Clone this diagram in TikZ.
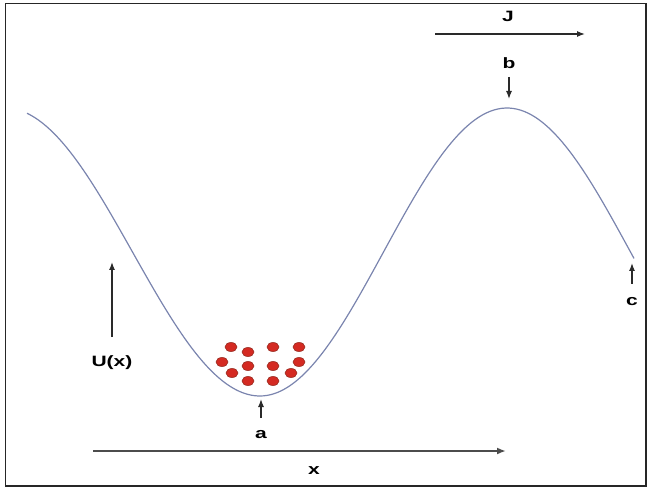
\documentclass[tikz,border=0pt]{standalone}
\usepackage{fontspec}
\setmainfont{Liberation Sans}
\usetikzlibrary{arrows.meta,shapes.geometric}
\definecolor{curvecol}{HTML}{7A84AE}
\definecolor{dotfill}{HTML}{D42A22}
\definecolor{dotedge}{HTML}{9A2A20}
\definecolor{arrcol}{HTML}{2A2A2A}
\tikzset{
  lbl/.style={font=\fontsize{15}{15}\selectfont\bfseries, inner sep=0pt},
  arr/.style={draw=arrcol, line width=1.3pt, -{Latex[length=8pt,width=6pt]}},
  dot/.style={ellipse, fill=dotfill, draw=dotedge, line width=0.6pt, minimum width=12pt, minimum height=9pt, inner sep=0pt},
}
\newcommand{\wide}[1]{\scalebox{1.4}[1]{#1}}
\begin{document}
\begin{tikzpicture}[x=1pt,y=-1pt]
\useasboundingbox (0,0) rectangle (651,489);
\draw[line width=1.6pt, draw=black!85] (5.5,3.5) rectangle (646,486);
% potential curve
\draw[curvecol, line width=1.2pt]
  plot[domain=27:260, samples=80, smooth] (\x, {252 + 144*cos((\x-260)/255*180)})
  -- plot[domain=260:634, samples=100, smooth] (\x, {252 + 144*cos((\x-260)/247*180)});
% particles
\foreach \px/\py [count=\i] in {231/347, 248/352, 273/347, 299/347, 222/362, 248/366, 273/366, 299/362, 232/373, 248/381, 273/381, 291/373}
  \node[dot] (p\i) at (\px,\py) {};
% flux J
\coordinate (js) at (435,34);
\coordinate (je) at (585,34);
\draw[arr] (js) -- (je);
\node[lbl] (J) at (508,16) {\wide{J}};
% b
\node[lbl] (b) at (509,63) {\wide{b}};
\coordinate (bs) at (509,77);
\coordinate (be) at (509,99);
\draw[arr] (bs) -- (be);
% a
\node[lbl] (a) at (261,435) {\wide{a}};
\coordinate (as) at (261,418);
\coordinate (ae) at (261,399);
\draw[arr] (as) -- (ae);
% c
\node[lbl] (c) at (632,302) {\wide{c}};
\coordinate (cs) at (632,284);
\coordinate (ce) at (632,263);
\draw[arr] (cs) -- (ce);
% U(x)
\node[lbl] (U) at (112,363) {\wide{U(x)}};
\coordinate (us) at (112,337);
\coordinate (ue) at (112,262);
\draw[arr] (us) -- (ue);
% x axis
\coordinate (xs) at (93,451);
\coordinate (xe) at (506,451);
\draw[draw=black!70, line width=1.8pt, -{Latex[length=9pt,width=7pt]}] (xs) -- (xe);
\node[lbl] (X) at (314,471) {\wide{x}};
\end{tikzpicture}
\end{document}
